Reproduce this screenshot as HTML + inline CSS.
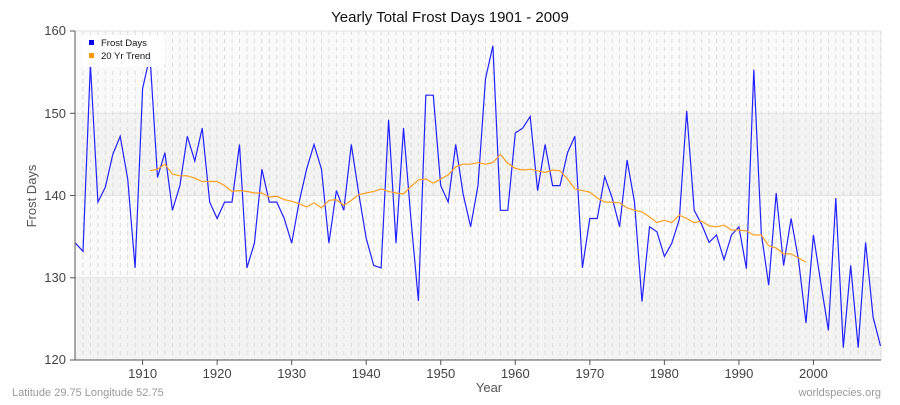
<!DOCTYPE html>
<html><head><meta charset="utf-8"><style>
body{margin:0;background:#fff;}
svg text{font-family:"Liberation Sans","DejaVu Sans",sans-serif;}
</style></head><body>
<svg id="s" width="900" height="400" xmlns="http://www.w3.org/2000/svg">
<rect x="0" y="0" width="900" height="400" fill="#fff"/>
<rect x="75" y="31" width="806" height="82" fill="#fafafa"/>
<rect x="75" y="113" width="806" height="82" fill="#f3f3f3"/>
<rect x="75" y="195" width="806" height="83" fill="#fafafa"/>
<rect x="75" y="278" width="806" height="82" fill="#f3f3f3"/>
<g id="vg" stroke="#dcdcdc" stroke-width="1" stroke-dasharray="4,4"></g>
<g stroke="#e2e2e2" stroke-width="1">
<line x1="75" y1="31" x2="881" y2="31"/>
<line x1="75" y1="113.3" x2="881" y2="113.3"/>
<line x1="75" y1="195.5" x2="881" y2="195.5"/>
<line x1="75" y1="277.8" x2="881" y2="277.8"/>
<line x1="881" y1="31" x2="881" y2="360"/>
</g>
<polyline id="fd" fill="none" stroke="#2222ff" stroke-width="1.2"/>
<polyline id="tr" fill="none" stroke="#ffa020" stroke-width="1.2"/>
<g stroke="#555" stroke-width="1">
<line x1="75" y1="31" x2="75" y2="360"/>
<line x1="75" y1="360" x2="881" y2="360"/>
<line x1="70" y1="31" x2="75" y2="31"/>
<line x1="70" y1="113.3" x2="75" y2="113.3"/>
<line x1="70" y1="195.5" x2="75" y2="195.5"/>
<line x1="70" y1="277.8" x2="75" y2="277.8"/>
<line x1="70" y1="360" x2="75" y2="360"/>
</g>
<g id="xt" stroke="#555"></g>
<g font-size="13" fill="#444" text-anchor="end">
<text x="66" y="35">160</text>
<text x="66" y="118">150</text>
<text x="66" y="200">140</text>
<text x="66" y="282">130</text>
<text x="66" y="364">120</text>
</g>
<g id="xl" font-size="13" fill="#444" text-anchor="middle"></g>
<text x="450" y="22" font-size="15" text-anchor="middle" fill="#111">Yearly Total Frost Days 1901 - 2009</text>
<text x="489" y="392" font-size="13" text-anchor="middle" fill="#555">Year</text>
<text x="36" y="196" font-size="13" text-anchor="middle" fill="#555" transform="rotate(-90 36 196)">Frost Days</text>
<text x="12" y="396" font-size="11" fill="#999">Latitude 29.75 Longitude 52.75</text>
<text x="881" y="396" font-size="11" fill="#999" text-anchor="end">worldspecies.org</text>
<rect x="81" y="35" width="84" height="32" rx="3" fill="#fff" opacity="0.9"/>
<rect x="89" y="40" width="5" height="5" fill="#0000ee"/>
<text x="101" y="46" font-size="9.5" fill="#111">Frost Days</text>
<rect x="89" y="53" width="5" height="5" fill="#ff9900"/>
<text x="101" y="59" font-size="9.5" fill="#111">20 Yr Trend</text>
</svg>
<script>
var fd=[134.2,133.2,156,139.2,141,145,147.2,142,131.2,153,157,142.2,145.2,138.2,141.2,147.2,144.2,148.2,139.2,137.2,139.2,139.2,146.2,131.2,134.2,143.2,139.2,139.2,137.2,134.2,139.2,143.2,146.2,143.2,134.2,140.6,138.2,146.2,140.2,134.8,131.5,131.2,149.2,134.2,148.2,137.2,127.2,152.2,152.2,141.2,139.2,146.2,140.2,136.2,141.2,154.2,158.2,138.2,138.2,147.6,148.2,149.6,140.6,146.2,141.2,141.2,145.2,147.2,131.2,137.2,137.2,142.3,139.7,136.2,144.3,139.2,127.1,136.2,135.6,132.6,134.2,137.1,150.3,138.2,136.5,134.3,135.2,132.2,135.2,136.2,131.1,155.3,135.4,129.1,140.3,131.5,137.2,132.2,124.5,135.2,129.3,123.6,139.7,121.5,131.5,121.5,134.3,125.2,121.7];
var tr=[143.0,143.2,143.8,142.6,142.4,142.4,142.1,141.7,141.7,141.7,141.2,140.5,140.6,140.5,140.3,140.3,139.8,139.9,139.5,139.3,139.0,138.6,139.1,138.5,139.4,139.5,138.8,139.4,140.1,140.3,140.5,140.8,140.5,140.3,140.2,141.1,141.9,142.0,141.5,142.0,142.5,143.5,143.8,143.8,144.0,143.8,144.0,145.0,143.9,143.3,143.1,143.2,143.0,142.8,143.1,143.0,142.0,140.8,140.6,140.4,139.7,139.2,139.2,139.1,138.5,138.2,138.0,137.4,136.7,137.0,136.7,137.6,137.2,136.7,136.9,136.3,136.2,136.4,135.8,135.8,135.7,135.2,135.2,133.9,133.6,132.9,132.9,132.4,131.9];
function X(y){return 75.5+(y-1901)*7.454;}
function Y(v){return 31+(160-v)*8.225;}
var p=[];for(var i=0;i<fd.length;i++)p.push(X(1901+i).toFixed(1)+","+Y(fd[i]).toFixed(1));
document.getElementById("fd").setAttribute("points",p.join(" "));
p=[];for(i=0;i<tr.length;i++)p.push(X(1911+i).toFixed(1)+","+Y(tr[i]).toFixed(1));
document.getElementById("tr").setAttribute("points",p.join(" "));
var ns="http://www.w3.org/2000/svg",vg=document.getElementById("vg"),xt=document.getElementById("xt"),xl=document.getElementById("xl");
for(var y=1902;y<=2009;y++){var l=document.createElementNS(ns,"line");var x=X(y);l.setAttribute("x1",x);l.setAttribute("x2",x);l.setAttribute("y1",31);l.setAttribute("y2",360);vg.appendChild(l);}
for(y=1910;y<=2000;y+=10){var x=X(y);var l=document.createElementNS(ns,"line");l.setAttribute("x1",x);l.setAttribute("x2",x);l.setAttribute("y1",360);l.setAttribute("y2",365);xt.appendChild(l);
var t=document.createElementNS(ns,"text");t.setAttribute("x",x);t.setAttribute("y",378);t.textContent=y;xl.appendChild(t);}
</script>
</body></html>
